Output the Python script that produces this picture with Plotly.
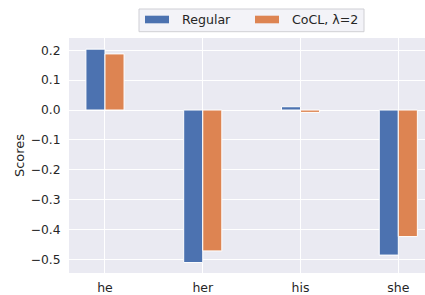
import plotly.graph_objects as go

categories = ["he", "her", "his", "she"]
regular = [0.204, -0.511, 0.011, -0.486]
cocl = [0.188, -0.472, -0.008, -0.424]
series_names = ["Regular", "CoCL, λ=2"]
colors = ["#4C72B0", "#DD8452"]
y_ticks = [0.2, 0.1, 0.0, -0.1, -0.2, -0.3, -0.4, -0.5]

W, H = 425, 295
L, R, T, B = 69, 0, 38, 22
pw, ph = W - L - R, H - T - B

def px(x):
    return (x - L) / pw

def py(y):
    return (H - B - y) / ph

fig = go.Figure()
for name, vals, c in zip(series_names, [regular, cocl], colors):
    fig.add_trace(go.Bar(x=categories, y=vals, name=name, marker_color=c,
                         marker_line=dict(color="white", width=1), showlegend=False))

fig.update_layout(
    width=W, height=H,
    margin=dict(l=L, r=R, t=T, b=B, autoexpand=False),
    paper_bgcolor="white", plot_bgcolor="#EAEAF2",
    barmode="group", bargap=0.61, bargroupgap=0,
    font=dict(family="DejaVu Sans", size=12.3, color="#262626"),
)
fig.update_xaxes(range=[-0.368, 3.273], showgrid=True, gridcolor="white", gridwidth=1.3,
                 zeroline=False, ticks="outside", ticklen=3, tickcolor="rgba(0,0,0,0)",
                 tickfont=dict(size=12.5), automargin=False)
fig.update_yaxes(range=[-0.546, 0.2413], tickvals=y_ticks, tickformat=".1f",
                 showgrid=True, gridcolor="white", gridwidth=1.3, zeroline=False,
                 ticks="outside", ticklen=5, tickcolor="rgba(0,0,0,0)",
                 tickfont=dict(size=12.3), automargin=False,
                 title=dict(text="Scores", font=dict(size=13), standoff=3))

# legend drawn manually
fig.add_shape(type="rect", xref="paper", yref="paper",
              x0=px(139), x1=px(364), y0=py(31.7), y1=py(9),
              fillcolor="#F3F3F8", line=dict(color="#CFCFD4", width=1), layer="above")
sym_x = [145, 255]
txt_x = [180, 290]
for sx, tx, name, c in zip(sym_x, txt_x, series_names, colors):
    fig.add_shape(type="rect", xref="paper", yref="paper",
                  x0=px(sx), x1=px(sx + 24), y0=py(23.3), y1=py(15.7),
                  fillcolor=c, line=dict(width=0), layer="above")
    fig.add_annotation(xref="paper", yref="paper", x=px(tx), y=py(19.5),
                       text=name, showarrow=False, xanchor="left", yanchor="middle",
                       font=dict(size=12.6, color="#262626"))

fig.write_html("out.html", config={"displayModeBar": False},
               post_script="document.body.style.margin='0';")
